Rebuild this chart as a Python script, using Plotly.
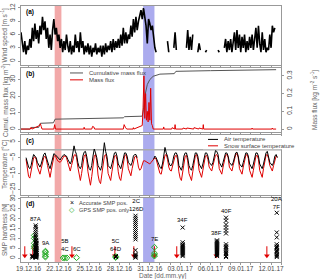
import pandas as pd
import plotly.graph_objects as go
from plotly.subplots import make_subplots

FONT = "Liberation Sans, Arial, sans-serif"

# ---------------- data ----------------
# wind speed, 3-hourly from 2016-12-18 06:00 (None = gap)
wind_start = "2016-12-18 06:00"
wind_speed = [
    6.5, 3.5, 2, 4.5, 1.5, 3.5,
    2.5, 5, 3, 7.5, 4.5, 8.5, 5, 7,
    4, 8, 6, 10, 7, 9, 5, 7.5,
    3, 6, 2.5, 7, 9.5, 6, 7.5, 4.5,
    6, 3, 5, 2, 4.5, 2.5, 6, 3.5,
    2, 4.5, 1.5, 3.5, 2, 6, 3, 4.5,
    2, 6.5, 3, 4.5, 1.5, 3.5, 2, 4,
    1.5, 3.5, 1, 3, 2, 4, 1.5, 3,
    2, 3.5, 1, 3.5, 1.5, 4, 2, 3.5,
    2.5, 4.5, 2, 5, 2.5, 4.5, 3, 5,
    3, 6, 3.5, 7.5, 4, 6.5, 4, 6,
    5, 8, 5.5, 9.5, 6.5, 10, 7, 9,
    10, 11.5, 9.5, 12, 10, 8, 4, 9.5,
    8.5, 7, 8, 5, 3, 2, None, None,
    None, None, None, None, None, None, 4.5, 2,
    None, None, None, 3, 6.5, 2.5, None, 2.5,
    None, None, None, None, None, 3, 7, 2.5,
    5.5, 2.5, 6, None, None, None, 2, 4,
    2.5, None, None, None, 2, 2.5, None, None,
    None, None, None, None, None, None, 2.5, 2,
    None, None, None, 3, 5, 2, 4.5, 2.5,
    5, 2, 4, 6.5, 2.5, 7, 3, 6,
    2, 5.5, 3, 6, 2, 4.5, 2.5, 5.5,
    3, 6, 2.5, 5, 7.5, 3, 8, 4,
    2, 6.5, 2.5, 5, 2, 3, 2.5, 6,
    3, 8, 6.5, 7.5,
]

# cumulative mass flux [kg m-2]
cum_time = ["2016-12-18 06:00", "2016-12-19 04:00", "2016-12-19 07:00", "2016-12-20 00:00",
            "2016-12-20 04:00", "2016-12-21 11:00", "2016-12-21 15:00", "2016-12-25 00:00",
            "2016-12-28 09:00", "2016-12-28 12:00", "2016-12-30 06:00", "2016-12-30 09:00",
            "2016-12-30 13:00", "2016-12-30 18:00", "2016-12-31 00:00", "2016-12-31 08:00",
            "2017-01-01 00:00", "2017-01-02 10:00", "2017-01-02 14:00", "2017-01-06 00:00",
            "2017-01-12 12:00"]
cum_flux = [0, 0, 1, 1, 3.5, 3.8, 6, 6.3, 6.8, 7.5, 7.8, 12, 21, 27, 30, 32, 33.3,
            33.6, 35, 35.4, 36]

# mass flux [kg m-2 s-1]
flux_time = ["2016-12-18 06:00", "2016-12-19 04:00", "2016-12-19 06:00", "2016-12-19 08:00",
             "2016-12-20 02:00", "2016-12-20 04:00", "2016-12-20 06:00", "2016-12-20 08:00",
             "2016-12-21 12:00", "2016-12-21 14:00", "2016-12-21 16:00",
             "2016-12-24 11:00", "2016-12-24 12:00", "2016-12-24 13:00",
             "2016-12-25 06:00", "2016-12-25 08:00", "2016-12-25 11:00", "2016-12-25 13:00",
             "2016-12-28 09:00", "2016-12-28 11:00", "2016-12-28 14:00", "2016-12-28 17:00",
             "2016-12-29 08:00", "2016-12-29 09:00", "2016-12-29 10:00",
             "2016-12-30 06:00", "2016-12-30 08:00", "2016-12-30 10:00", "2016-12-30 12:00",
             "2016-12-30 14:00", "2016-12-30 16:00", "2016-12-30 18:00", "2016-12-30 20:00",
             "2016-12-30 22:00", "2016-12-31 00:00", "2016-12-31 02:00", "2016-12-31 04:00",
             "2016-12-31 06:00", "2016-12-31 08:00",
             "2017-01-01 08:00", "2017-01-01 09:00", "2017-01-01 10:00",
             "2017-01-02 04:00", "2017-01-02 05:00", "2017-01-02 11:00", "2017-01-02 12:00",
             "2017-01-02 13:00",
             "2017-01-03 06:00", "2017-01-03 07:00", "2017-01-03 15:00", "2017-01-03 16:00",
             "2017-01-04 08:00", "2017-01-04 09:00", "2017-01-04 14:00", "2017-01-04 16:00",
             "2017-01-04 20:00", "2017-01-04 21:00",
             "2017-01-05 06:00", "2017-01-05 07:00", "2017-01-05 08:00",
             "2017-01-10 02:00", "2017-01-10 03:00", "2017-01-10 04:00",
             "2017-01-12 02:00", "2017-01-12 03:00", "2017-01-12 04:00", "2017-01-12 12:00"]
flux_val = [0, 0, 0.01, 0,
            0.02, 0.03, 0.015, 0,
            0, 0.025, 0,
            0, 0.01, 0,
            0, 0.015, 0.012, 0,
            0, 0.025, 0.01, 0,
            0, 0.008, 0,
            0.02, 0.12, 0.3, 0.06,
            0.2, 0.05, 0.1, 0.04,
            0.15, 0.05, 0.23, 0.03,
            0.02, 0,
            0, 0.012, 0,
            0, 0.008, 0, 0.025,
            0,
            0, 0.006, 0, 0.006,
            0, 0.008, 0.005, 0,
            0, 0.006,
            0, 0.025, 0,
            0, 0.006, 0,
            0, 0.006, 0, 0]

# temperatures, 3-hourly from 2016-12-18 18:00
temp_start = "2016-12-18 18:00"
air_temp = [
    -5, -9,
    -11, -12, -10, -6, -3, -4, -5, -8,
    -10, -11, -9, -5, -3, -2, -5, -7,
    -10, -12, -9, -5, -2.5, -3, -4, -5,
    -6, -6.5, -5, -3.5, -3, -3.5, -4, -6,
    -8, -9, -7, -3, 2.5, -1, -3, -8,
    -11, -12, -10, -4, -1.5, -1, -4, -9,
    -12, -13, -10, -4, 0.5, -2, -5, -10,
    -12, -13, -10, -4, 4.5, -1, -4, -10,
    -11, -12, -9, -4, -2, -1.5, -4, -9,
    -11, -12, -9, -4, -2, -2, -4, -8,
    -9, -10, -8, -4, -3, -3, -5, None,
    None, None, None, None, None, None, None, None,
    None, None, None, -6, -4, -5, -7, -10,
    -11, -12, -9, -4, 1.5, -2, -4, -8,
    -10, -10, -8, -4, -2, -2, -4, -10,
    -12, -13, -10, -4, -2, -2, -5, -10,
    -12, -13, -10, -5, -2, -2, -4, -9,
    -11, -12, -9, -4, -2, -2, -4, -8,
    -9, -10, -8, -3, -0.5, -1, -3, -8,
    -10, -11, -8, -4, -2, -2, -4, -8,
    -9, -10, -8, -4, -2, -1.5, -4, -9,
    -10, -11, -8, -4, -2, -2, -4, -9,
    -11, -12, -9, -4, -2, -2, -4, -9,
    -11, -12, -9, -4, -2, -1, -4, -8,
    -9, -10, -8, -4, -3, -5,
]
snow_temp = [
    -6, -12,
    -17, -18, -14, -8, -5, -4.5, -6, -11,
    -14, -15.5, -12, -7, -5, -4, -6, -10,
    -15, -17.5, -13, -7, -4.5, -3.5, -5.5, -7,
    -7.5, -8, -7, -5, -4, -4, -5, -8,
    -11, -13.5, -10, -6, -3.5, -3, -5, -11,
    -17, -19.5, -15, -8, -4, -3, -6, -14,
    -20, -22.5, -17, -8, -4, -3, -7, -16,
    -20, -21.5, -16, -8, -4, -3, -6, -15,
    -18, -19.5, -14, -7, -4, -3.5, -6, -14,
    -18, -19.5, -14, -7, -4, -3, -6, -12,
    -15, -16.5, -12, -7, -4.5, -4, -6, -11,
    -13, -12, -9, -7, -7, -7.5, -8, -9,
    -9, -8, -7, -6, -5, -6, -9, -13,
    -15, -15.5, -11, -6, -3.5, -3, -6, -11,
    -13, -13.5, -10, -6, -4, -3.5, -6, -14,
    -18, -19.5, -14, -7, -4, -3.5, -7, -15,
    -18, -19.5, -14, -7, -4, -3, -6, -13,
    -16, -17.5, -13, -7, -4, -3.5, -6, -11,
    -12, -13.5, -10, -6, -3.5, -3, -5, -12,
    -14, -15.5, -11, -6, -3.5, -3, -5, -11,
    -12, -13.5, -10, -6, -3, -2.5, -5, -12,
    -14, -15.5, -11, -6, -3.5, -3, -5.5, -13,
    -16, -17.5, -13, -7, -4, -3.5, -6, -13,
    -16, -17.5, -12, -6, -3.5, -3, -5.5, -10,
    -12, -13.5, -10, -6, -4, -4.5,
]

# SMP hardness [N]: accurate positions (time -> values)
smp_accurate = {
    "2016-12-19 09:00": [0.3, 0.8, 1.2],
    "2016-12-19 17:00": [0.2, 0.5, 0.8, 1.1, 1.4, 1.8, 2.2, 2.6, 3.0, 3.4, 3.9, 4.4, 4.9, 5.4,
                         6.0, 6.6, 7.2, 7.8, 8.5, 9.2, 10.0, 10.8, 11.6, 12.5, 13.5, 14.6,
                         15.8, 16.6],
    "2016-12-19 19:00": [0.4, 1.0, 1.6, 2.4, 3.2, 4.1, 5.1, 6.3, 7.5, 8.8],
    "2016-12-27 15:30": [0.5, 1.0],
    "2016-12-29 14:00": [21.5, 20.5, 19.5, 18.5, 17.5, 16.5, 15.5, 14.5, 13.5, 12.5, 11.5,
                         10.5, 9.5, 4, 2, 1.5, 1, 0.5, 0.2],
    "2017-01-03 06:00": [15.5, 8, 7, 6.5, 6, 5.5, 5, 4.5, 4, 3.5, 3, 2.5, 2, 1.5, 1],
    "2017-01-06 15:30": [9, 8.5, 8, 7.5, 7, 6.5, 6, 5.5, 5, 4.5, 4, 3.5, 3, 2.5, 2, 1.5, 1],
    "2017-01-07 13:00": [20.5, 19, 17, 15.5, 14, 12.5, 7, 6, 5.5, 5, 4, 3, 2.5, 2, 1, 0.5],
    "2017-01-12 13:30": [23, 13, 10.5, 7, 6, 5.5, 5, 4, 3.5, 3, 2, 1.5, 1, 0.5],
}
# SMP hardness [N]: GPS positions only
smp_gps = {
    "2016-12-19 13:30": [11.5, 10, 7.5, 6, 5],
    "2016-12-20 16:00": [3.5, 3, 2, 1, 0.5],
    "2016-12-22 10:00": [0.1],
    "2016-12-22 14:00": [0.1],
    "2016-12-22 19:00": [0.1],
    "2016-12-23 18:00": [0.2],
    "2016-12-27 15:00": [0.3, 0.8],
    "2016-12-31 11:00": [5.5, 2.5, 1.5, 1.0],
}
smp_label_text = ["87A", "9A", "5B<br>4C", "6C", "5C<br>64D", "2C<br>126D", "7E", "34F",
                  "38F", "40F", "20A<br>7F"]
smp_label_time = ["2016-12-19 17:00", "2016-12-20 16:00", "2016-12-22 14:00",
                  "2016-12-23 18:00", "2016-12-27 15:30", "2016-12-29 17:00",
                  "2016-12-31 11:00", "2017-01-03 06:00", "2017-01-06 15:30",
                  "2017-01-07 13:00", "2017-01-12 13:30"]
smp_label_y = [17.5, 5, 2, 2, 2, 22.5, 7, 17, 10, 21.5, 23.5]
arrow_time = ["2016-12-18 15:00", "2016-12-19 10:00", "2016-12-23 07:00", "2016-12-27 13:00",
              "2016-12-29 10:00", "2016-12-31 11:00", "2017-01-02 16:00", "2017-01-06 14:00",
              "2017-01-11 14:00"]
arrow_top, arrow_tip = 6.0, 0.6

pink_period = ["2016-12-21 14:00", "2016-12-22 06:00"]
blue_period = ["2016-12-30 08:00", "2016-12-31 11:00"]

# ---------------- figure ----------------
wind_t = pd.date_range(wind_start, periods=len(wind_speed), freq="3h")
temp_t = pd.date_range(temp_start, periods=len(air_temp), freq="3h")

fig = make_subplots(rows=4, cols=1, shared_xaxes=True,
                    specs=[[{}], [{"secondary_y": True}], [{}], [{}]])

RED = "#e00000"
fig.add_trace(go.Scatter(x=wind_t, y=wind_speed, mode="lines",
                         line=dict(color="black", width=1.6), connectgaps=False,
                         showlegend=False), row=1, col=1)
fig.add_trace(go.Scatter(x=pd.to_datetime(flux_time), y=flux_val, mode="lines",
                         line=dict(color=RED, width=1), showlegend=False),
              row=2, col=1, secondary_y=True)
fig.add_trace(go.Scatter(x=pd.to_datetime(cum_time), y=cum_flux, mode="lines",
                         line=dict(color="#555555", width=1), showlegend=False),
              row=2, col=1, secondary_y=False)
fig.add_trace(go.Scatter(x=temp_t, y=snow_temp, mode="lines",
                         line=dict(color=RED, width=1), showlegend=False), row=3, col=1)
fig.add_trace(go.Scatter(x=temp_t, y=air_temp, mode="lines",
                         line=dict(color="black", width=1), showlegend=False), row=3, col=1)

acc_x, acc_y = [], []
for t, vals in smp_accurate.items():
    acc_x += [pd.Timestamp(t)] * len(vals)
    acc_y += vals
gps_x, gps_y = [], []
for t, vals in smp_gps.items():
    gps_x += [pd.Timestamp(t)] * len(vals)
    gps_y += vals

# red arrows (shaft + head)
ar_x, ar_y = [], []
for t in arrow_time:
    ar_x += [pd.Timestamp(t), pd.Timestamp(t), None]
    ar_y += [arrow_top, arrow_tip + 1.0, None]
fig.add_trace(go.Scatter(x=ar_x, y=ar_y, mode="lines", line=dict(color=RED, width=1),
                         showlegend=False, hoverinfo="skip"), row=4, col=1)
fig.add_trace(go.Scatter(x=pd.to_datetime(arrow_time), y=[arrow_tip + 0.6] * len(arrow_time),
                         mode="markers", marker=dict(symbol="triangle-down", size=5, color=RED),
                         showlegend=False, hoverinfo="skip"), row=4, col=1)

fig.add_trace(go.Scatter(x=gps_x, y=gps_y, mode="markers",
                         marker=dict(symbol="diamond-open", size=4.5, color="#22aa22",
                                     line=dict(width=1)), showlegend=False), row=4, col=1)
fig.add_trace(go.Scatter(x=acc_x, y=acc_y, mode="markers",
                         marker=dict(symbol="x-thin-open", size=4, color="black",
                                     line=dict(width=1, color="black")),
                         showlegend=False), row=4, col=1)

# shading
xrefs = ["x", "x2", "x3", "x4"]
yrefs = ["y domain", "y2 domain", "y4 domain", "y5 domain"]
for xr, yr in zip(xrefs, yrefs):
    fig.add_shape(type="rect", xref=xr, yref=yr, x0=pink_period[0], x1=pink_period[1],
                  y0=0, y1=1, fillcolor="#F2A9A9", line_width=0, layer="below")
    fig.add_shape(type="rect", xref=xr, yref=yr, x0=blue_period[0], x1=blue_period[1],
                  y0=0, y1=1, fillcolor="#ABABEE", line_width=0, layer="below")

# zero line in (c)
fig.add_shape(type="line", xref="x3 domain", yref="y4", x0=0, x1=1, y0=0, y1=0,
              line=dict(color="#aaaaaa", width=1.5), layer="below")

# axes
tick_font = dict(family=FONT, size=6.5, color="#444444")
title_font = dict(family=FONT, size=6.5, color="#666666")
common_y = dict(showline=True, linecolor="#999999", linewidth=1, mirror=True, ticks="outside",
                ticklen=2, tickcolor="#999999", showgrid=False, zeroline=False,
                tickangle=-90, tickfont=tick_font)
common_x = dict(showline=True, linecolor="#999999", linewidth=1, mirror=True, ticks="outside",
                ticklen=2, tickcolor="#999999", showgrid=False, zeroline=False,
                tickformat="%d.%m.%y", tick0="2016-12-19", dtick=3 * 86400000,
                minor=dict(ticks="outside", dtick=86400000, tick0="2016-12-19", ticklen=2,
                           tickcolor="#999999"),
                range=["2016-12-18 06:00", "2017-01-13 00:30"], tickfont=tick_font)

H = 260.0
def dom(top, bottom):
    return [(262 - bottom) / H, (262 - top) / H]

fig.update_layout(
    xaxis=dict(common_x, showticklabels=False),
    xaxis2=dict(common_x, showticklabels=False),
    xaxis3=dict(common_x, showticklabels=False),
    xaxis4=dict(common_x, showticklabels=True, ticklabelstandoff=-2),
    yaxis=dict(common_y, domain=dom(2, 62), range=[-0.9, 12.45], tickvals=[0, 3, 6, 9, 12]),
    yaxis2=dict(common_y, domain=dom(65, 130), range=[-1.8, 37], tickvals=[0, 10, 20, 30]),
    yaxis3=dict(common_y, range=[-0.0167, 0.344], tickvals=[0, 0.1, 0.2, 0.3], mirror=False),
    yaxis4=dict(common_y, domain=dom(133, 194), range=[-28.75, 9.4],
                tickvals=[5, -5, -15, -25]),
    yaxis5=dict(common_y, domain=dom(197, 262), range=[-2, 30.5],
                tickvals=[0, 5, 10, 15, 20, 25, 30]),
    width=320, height=279,
    margin=dict(l=21, r=22, t=2, b=17),
    plot_bgcolor="white", paper_bgcolor="white",
    font=dict(family=FONT, size=7),
    showlegend=False,
)

def px(xp):
    return (xp - 21) / 277.0
def py(yp):
    return (262 - yp) / H

# axis titles
for txt, top, bot, xp in [("Wind speed [m s<sup>-1</sup>]", 2, 62, 5),
                          ("Cumul. mass flux [kg m<sup>-2</sup>]", 65, 130, 5),
                          ("Temperature [°C]", 133, 194, 5),
                          ("SMP hardness [N]", 197, 262, 5),
                          ("Mass flux [kg m<sup>-2</sup> s<sup>-1</sup>]", 65, 130, 314)]:
    fig.add_annotation(text=txt, xref="paper", yref="paper", x=px(xp), y=py((top + bot) / 2),
                       textangle=-90, xanchor="center", yanchor="middle", showarrow=False,
                       font=title_font)
fig.add_annotation(text="Date [dd.mm.yy]", xref="paper", yref="paper", x=px(163), y=py(276),
                   xanchor="center", yanchor="middle", showarrow=False, font=title_font)

# panel labels
for lab, xr, yr in zip(["(a)", "(b)", "(c)", "(d)"], xrefs, yrefs):
    fig.add_annotation(text="<b>" + lab + "</b>", xref=xr + " domain", yref=yr, x=0.01, y=1.0,
                       xanchor="left", yanchor="top", showarrow=False,
                       font=dict(family=FONT, size=6.5, color="black"))

LEG = dict(family=FONT, size=6, color="#444444")
# legend (b)
for yy, col, txt in [(70, "#555555", "Cumulative mass flux"), (77, RED, "Mass flux")]:
    fig.add_shape(type="line", xref="paper", yref="paper", x0=px(70), x1=px(83), y0=py(yy),
                  y1=py(yy), line=dict(color=col, width=1))
    fig.add_annotation(text=txt, xref="paper", yref="paper", x=px(87), y=py(yy),
                       xanchor="left", yanchor="middle", showarrow=False, font=LEG)
# legend (c)
fig.add_shape(type="rect", xref="paper", yref="paper", x0=px(203), x1=px(293), y0=py(147.5),
              y1=py(134), fillcolor="white", line_width=0, layer="above")
for yy, col, txt in [(137.5, "black", "Air temperature"), (144, RED, "Snow surface temperature")]:
    fig.add_shape(type="line", xref="paper", yref="paper", x0=px(208), x1=px(218), y0=py(yy),
                  y1=py(yy), line=dict(color=col, width=1))
    fig.add_annotation(text=txt, xref="paper", yref="paper", x=px(222), y=py(yy),
                       xanchor="left", yanchor="middle", showarrow=False, font=LEG)
# legend (d)
LEG_D = dict(family=FONT, size=5.7, color="#444444")
for yy, sym, col, txt in [(202, "×", "black", "Accurate SMP pos."),
                          (209, "◇", "#22aa22", "GPS SMP pos. only")]:
    fig.add_annotation(text=sym, xref="paper", yref="paper", x=px(72), y=py(yy),
                       xanchor="center", yanchor="middle", showarrow=False,
                       font=dict(family=FONT, size=7, color=col))
    fig.add_annotation(text=txt, xref="paper", yref="paper", x=px(77), y=py(yy),
                       xanchor="left", yanchor="middle", showarrow=False, font=LEG_D)

# SMP labels
for txt, t, yv in zip(smp_label_text, smp_label_time, smp_label_y):
    fig.add_annotation(text=txt, x=t, y=yv, xref="x4", yref="y5", xanchor="center",
                       yanchor="bottom", showarrow=False,
                       font=dict(family=FONT, size=6, color="black"))

fig.write_html("out.html", config={"displayModeBar": False},
               post_script="document.body.style.margin='0';document.body.style.overflow='hidden';")
